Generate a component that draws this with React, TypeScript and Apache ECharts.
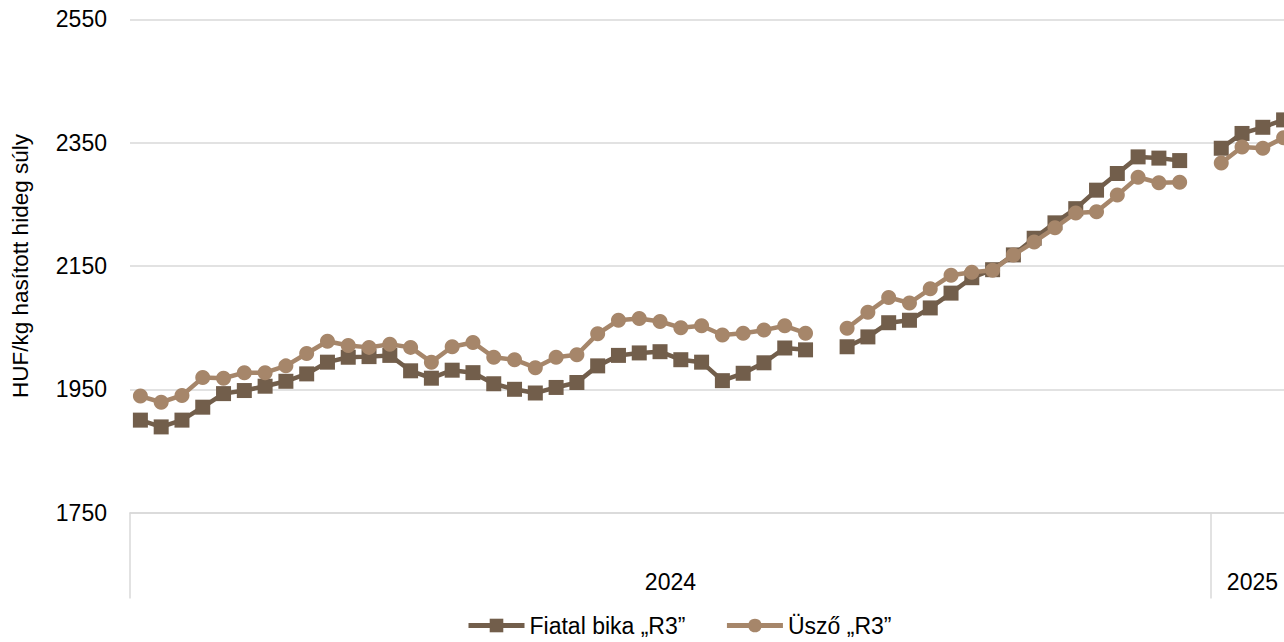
import React, { useEffect, useRef } from "react";
import * as echarts from "echarts";

// Week categories: 52 weeks of 2024, then 4 weeks of 2025
const years = ["2024", "2025"];
const weeksPerYear = [52, 4];
const weekLabels: string[] = [];
weeksPerYear.forEach((n, yi) => {
  for (let w = 1; w <= n; w++) weekLabels.push(`${years[yi]}-${w}`);
});

const yTicks = [1750, 1950, 2150, 2350, 2550];

const bika: (number | null)[] = [
  1900, 1889, 1900, 1921, 1943, 1948, 1955, 1963, 1975, 1994,
  2002, 2003, 2005, 1980, 1968, 1981, 1977, 1959, 1950, 1944,
  1953, 1961, 1988, 2005, 2009, 2011, 1998, 1994, 1964, 1976,
  1993, 2017, 2014, null, 2019, 2035, 2058, 2062, 2082, 2106,
  2131, 2144, 2168, 2195, 2220, 2243, 2273, 2300, 2327, 2325,
  2321, null,
  2341, 2365, 2375, 2387,
];

const uszo: (number | null)[] = [
  1939, 1929, 1940, 1969, 1968, 1977, 1977, 1988, 2008, 2028,
  2021, 2018, 2023, 2018, 1994, 2019, 2026, 2002, 1998, 1985,
  2002, 2006, 2040, 2062, 2065, 2060, 2050, 2053, 2038, 2041,
  2046, 2053, 2041, null, 2049, 2075, 2099, 2090, 2113, 2135,
  2140, 2143, 2168, 2189, 2212, 2236, 2238, 2265, 2294, 2285,
  2286, null,
  2317, 2343, 2341, 2358,
];

const seriesNames = ["Fiatal bika „R3”", "Üsző „R3”"];
const colors = ["#725E4B", "#A6866A"];

// year group boundaries and centers (in category units)
const yearStarts: number[] = [];
const yearCenters: number[] = [];
{
  let acc = 0;
  weeksPerYear.forEach((n) => {
    yearStarts.push(acc);
    yearCenters.push(acc + n / 2);
    acc += n;
  });
}
const total = weekLabels.length;

const FONT = "Liberation Sans, Arial, sans-serif";

export default function App() {
  const ref = useRef<HTMLDivElement>(null);
  useEffect(() => {
    if (!ref.current) return;
    document.body.style.margin = "0";
    document.body.style.overflow = "hidden";
    const chart = echarts.init(ref.current, null, { renderer: "svg" });
    chart.setOption({
      animation: false,
      backgroundColor: "#ffffff",
      textStyle: { fontFamily: FONT },
      grid: { left: 130, top: 19.4, bottom: 642 - 512.6, right: 0, containLabel: false },
      legend: {
        left: 461,
        top: 609,
        itemWidth: 56,
        itemHeight: 17,
        itemGap: 39,
        lineStyle: { width: 5 },
        textStyle: { fontSize: 23, color: "#000", fontFamily: FONT },
        data: seriesNames,
      },
      xAxis: [
        {
          type: "category",
          data: weekLabels,
          boundaryGap: true,
          axisLine: { show: true, lineStyle: { color: "#d9d9d9", width: 1.5 } },
          axisTick: {
            show: true,
            alignWithLabel: false,
            interval: (i: number) => yearStarts.includes(i),
            length: 86,
            lineStyle: { color: "#d9d9d9", width: 1.5 },
          },
          axisLabel: { show: false },
          splitLine: { show: false },
        },
        {
          type: "value",
          min: 0,
          max: total,
          interval: 2,
          position: "bottom",
          axisLine: { show: false },
          axisTick: { show: false },
          splitLine: { show: false },
          axisLabel: {
            show: true,
            margin: 58,
            fontSize: 23,
            color: "#000",
            fontFamily: FONT,
            showMinLabel: false,
            showMaxLabel: false,
            formatter: (v: number) => {
              const k = yearCenters.indexOf(v);
              return k >= 0 ? years[k] : "";
            },
          },
        },
      ],
      yAxis: {
        type: "value",
        min: yTicks[0],
        max: yTicks[yTicks.length - 1],
        interval: 200,
        name: "HUF/kg hasított hideg súly",
        nameLocation: "middle",
        nameRotate: 90,
        nameGap: 98,
        nameTextStyle: { fontSize: 22.5, color: "#000", fontFamily: FONT },
        axisLine: { show: false },
        axisTick: { show: false },
        axisLabel: {
          fontSize: 23,
          color: "#000",
          margin: 23,
          fontFamily: FONT,
          formatter: (v: number) => String(v),
        },
        splitLine: { show: true, lineStyle: { color: "#d9d9d9", width: 1.5 } },
      },
      series: [
        {
          name: seriesNames[0],
          type: "line",
          xAxisIndex: 0,
          data: bika,
          connectNulls: false,
          showAllSymbol: true,
          symbol: "rect",
          symbolSize: 15,
          color: colors[0],
          lineStyle: { width: 4.5, color: colors[0] },
          itemStyle: { color: colors[0] },
          z: 3,
        },
        {
          name: seriesNames[1],
          type: "line",
          xAxisIndex: 0,
          data: uszo,
          connectNulls: false,
          showAllSymbol: true,
          symbol: "circle",
          symbolSize: 15,
          color: colors[1],
          lineStyle: { width: 4.5, color: colors[1] },
          itemStyle: { color: colors[1] },
          z: 4,
        },
      ],
    });
    return () => chart.dispose();
  }, []);
  return (
    <div
      ref={ref}
      style={{ position: "fixed", left: 0, top: 0, width: 1294, height: 642 }}
    />
  );
}
